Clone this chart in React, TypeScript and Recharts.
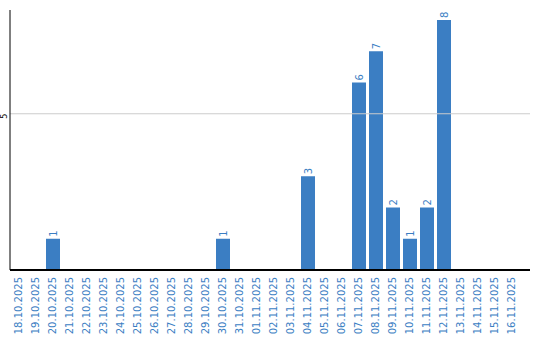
import React from 'react';
import { BarChart, Bar, XAxis, YAxis, ReferenceLine, LabelList } from 'recharts';

const dates = [
  '18.10.2025', '19.10.2025', '20.10.2025', '21.10.2025', '22.10.2025',
  '23.10.2025', '24.10.2025', '25.10.2025', '26.10.2025', '27.10.2025',
  '28.10.2025', '29.10.2025', '30.10.2025', '31.10.2025', '01.11.2025',
  '02.11.2025', '03.11.2025', '04.11.2025', '05.11.2025', '06.11.2025',
  '07.11.2025', '08.11.2025', '09.11.2025', '10.11.2025', '11.11.2025',
  '12.11.2025', '13.11.2025', '14.11.2025', '15.11.2025', '16.11.2025',
];
const counts = [
  0, 0, 1, 0, 0,
  0, 0, 0, 0, 0,
  0, 0, 1, 0, 0,
  0, 0, 3, 0, 0,
  6, 7, 2, 1, 2,
  8, 0, 0, 0, 0,
];
const yTicks = [5];

const data = dates.map((date, i) => ({ date, count: counts[i] }));

const BLUE = '#3b7ec3';
const FONT = '"DejaVu Sans", Verdana, sans-serif';

function DateTick(props: any) {
  const { x, y, payload } = props;
  const ty = y + 7;
  return (
    <text
      x={x}
      y={ty}
      dy="0.35em"
      transform={`rotate(-90, ${x}, ${ty})`}
      textAnchor="end"
      fill={BLUE}
      fontSize={10}
      fontFamily={FONT}
    >
      {payload.value}
    </text>
  );
}

function CountTick(props: any) {
  const { y, payload } = props;
  return (
    <text
      x={4}
      y={y}
      dy="0.35em"
      transform={`rotate(-90, 4, ${y})`}
      textAnchor="end"
      fill="#000"
      fontSize={8}
      fontFamily={FONT}
    >
      {payload.value}
    </text>
  );
}

function ValueLabel(props: any) {
  const { x, y, width, value } = props;
  if (!value) return null;
  const cx = x + width / 2;
  const cy = y - 2;
  return (
    <text
      x={cx}
      y={cy}
      dy="0.35em"
      transform={`rotate(-90, ${cx}, ${cy})`}
      textAnchor="start"
      fill={BLUE}
      fontSize={10}
      fontFamily={FONT}
    >
      {value}
    </text>
  );
}

export default function App() {
  return (
    <div style={{ position: 'absolute', left: 0, top: 0, background: '#fff' }}>
      <BarChart
        width={540}
        height={340}
        data={data}
        margin={{ top: 10, right: 10, left: 0, bottom: 0 }}
      >
        {yTicks.map((t) => (
          <ReferenceLine key={t} y={t} stroke="#cccccc" />
        ))}
        <XAxis
          dataKey="date"
          interval={0}
          height={70}
          padding={{ left: 0, right: 10 }}
          tickLine={false}
          tickSize={0}
          tickMargin={0}
          axisLine={{ stroke: '#000', strokeWidth: 2 }}
          tick={<DateTick />}
        />
        <YAxis
          width={10}
          domain={[0, 8.32]}
          ticks={yTicks}
          tickLine={false}
          tickSize={0}
          tickMargin={0}
          axisLine={{ stroke: '#000', strokeWidth: 1 }}
          tick={<CountTick />}
        />
        <Bar dataKey="count" fill={BLUE} barSize={14} isAnimationActive={false}>
          <LabelList dataKey="count" content={<ValueLabel />} />
        </Bar>
      </BarChart>
    </div>
  );
}
